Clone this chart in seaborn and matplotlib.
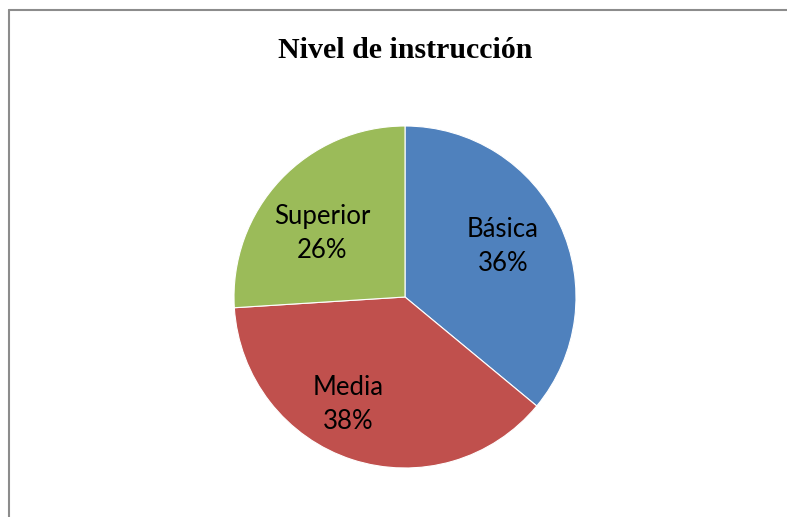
import matplotlib
matplotlib.use('Agg')
import matplotlib.pyplot as plt
import numpy as np
import seaborn as sns

# data
categories = ['Básica', 'Media', 'Superior']
shares = [36, 38, 26]
colors = ['#4F81BD', '#C0504D', '#9BBB59']

# label placement (style): fraction of the radius and angle shift from the wedge middle
label_radius = [0.645, 0.71, 0.61]
label_shift = [2.3, -10.0, 6.0]

sns.set_style('white')
plt.rcParams['font.family'] = ['Lato', 'DejaVu Sans']

fig = plt.figure(figsize=(7.87, 5.17), dpi=100)
ax = fig.add_axes([405/787 - 171/787, 1 - (297 + 171)/517, 342/787, 342/517])

wedges, _ = ax.pie(shares, colors=sns.color_palette(colors), startangle=90,
                   counterclock=False, radius=1.0,
                   wedgeprops=dict(linewidth=0.8, edgecolor='white'))
ax.set_xlim(-1, 1)
ax.set_ylim(-1, 1)
ax.set_aspect('equal')

# label text inside each wedge
for w, name, pct, rr, sh in zip(wedges, categories, shares, label_radius, label_shift):
    mid = np.deg2rad((w.theta1 + w.theta2) / 2 + sh)
    ax.text(rr * np.cos(mid), rr * np.sin(mid), f'{name}\n{pct}%',
            ha='center', va='center', fontsize=18.5, linespacing=1.45, color='black')

fig.text(405/787, 1 - 58/517, 'Nivel de instrucción', ha='center', va='baseline',
         fontsize=21.5, fontweight='bold', color='black',
         family=['Liberation Serif', 'DejaVu Serif'])

# outer frame, only left and top edges show in the crop
fig.add_artist(plt.Line2D([9/787, 9/787], [0, 1 - 10/517], transform=fig.transFigure,
                          color='#8c8c8c', linewidth=1.5))
fig.add_artist(plt.Line2D([9/787, 1], [1 - 10/517, 1 - 10/517], transform=fig.transFigure,
                          color='#8c8c8c', linewidth=1.5))

fig.savefig('out.png', dpi=100)
